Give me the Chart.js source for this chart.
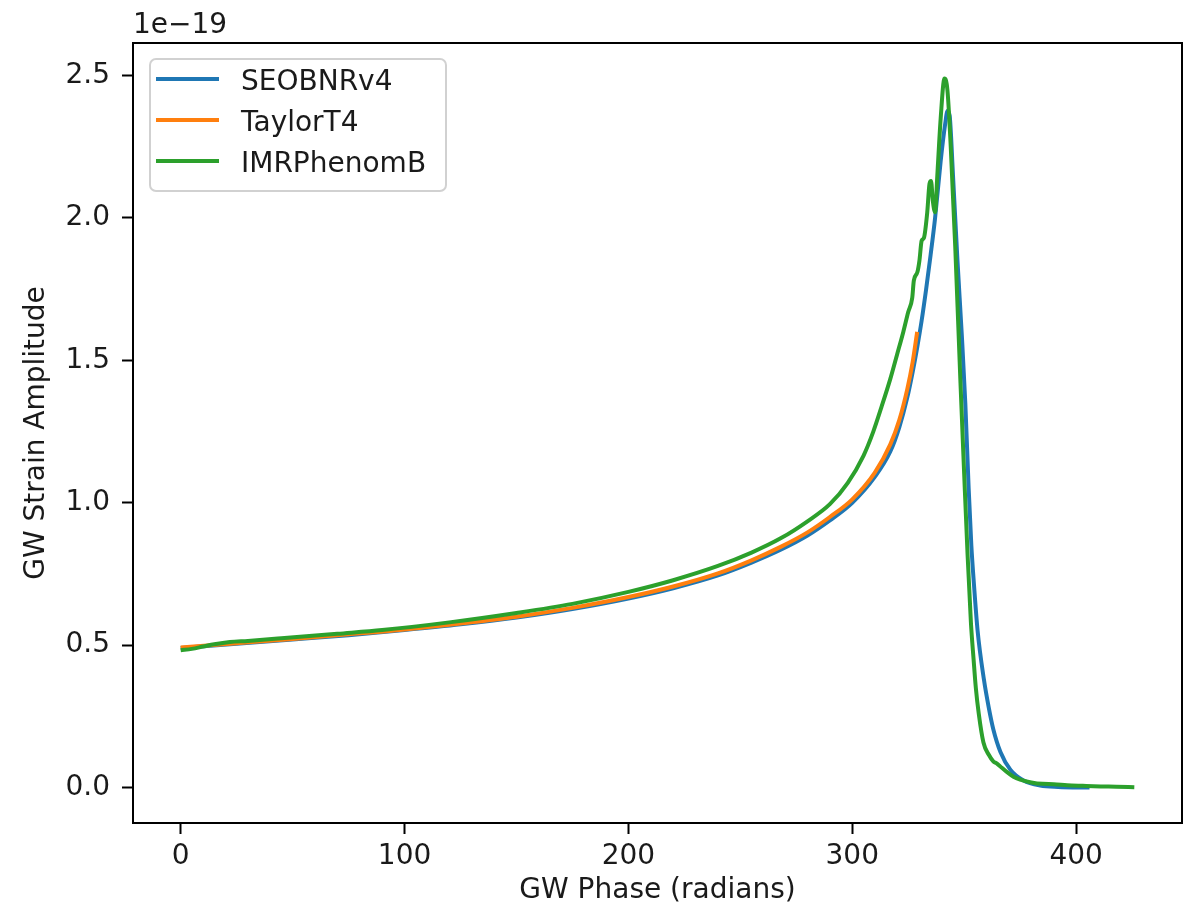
<!DOCTYPE html>
<html><head><meta charset="utf-8">
<script src="https://cdn.jsdelivr.net/npm/chart.js@4.4.1/dist/chart.umd.min.js"></script>
<style>html,body{margin:0;padding:0;background:#fff;overflow:hidden}canvas{display:block}</style>
</head><body>
<canvas id="c" width="1190" height="906"></canvas>
<script>
// ---- data (amplitude in units of 1e-19) ----
const seriesNames = ['SEOBNRv4', 'TaylorT4', 'IMRPhenomB'];
const seriesColors = ['#1f77b4', '#ff7f0e', '#2ca02c'];

const seobX = [0,25,50,75,100,125,150,175,200,220,240,255,268,280,290,300,310,317,321,324.6,327,329,331,333,335,337,339.5,341.5,342.6,343.5,345,347,349,350.5,352,353.2,354.3,356,358.8,361,363,366.2,370.7,376.5,384,392,406];
const seobY = [0.490,0.505,0.520,0.535,0.553,0.573,0.597,0.627,0.664,0.700,0.745,0.790,0.835,0.885,0.938,1.000,1.090,1.180,1.265,1.370,1.460,1.545,1.640,1.750,1.870,2.000,2.200,2.330,2.377,2.360,2.150,1.850,1.580,1.350,1.050,0.850,0.720,0.550,0.380,0.280,0.205,0.125,0.062,0.025,0.007,0.002,0.000];

const taylorX = [0,25,50,75,100,125,150,175,200,220,240,255,268,280,290,300,310,317,321,324.6,327,329];
const taylorY = [0.492,0.507,0.522,0.538,0.555,0.576,0.600,0.631,0.669,0.706,0.752,0.798,0.845,0.896,0.950,1.012,1.105,1.205,1.290,1.400,1.495,1.600];

const imrX = [0,5,10,15,22,30,45,70,90,120,150,175,200,220,240,255,268,280,290,298,305,309.4,313,317,320,322.8,325,326.8,327.5,329.1,330,331,332,333.5,334.5,335.2,336,337,338,339.5,341.2,342.5,344,346,348.3,350,351.5,353,354.2,355.2,356.5,358.6,361,363,364.5,366,369.3,372,375,380,385,390,396,403,411,418,426];
const imrY = [0.482,0.487,0.495,0.503,0.511,0.515,0.524,0.540,0.553,0.580,0.613,0.645,0.687,0.728,0.778,0.825,0.875,0.935,0.995,1.070,1.165,1.250,1.335,1.435,1.520,1.600,1.670,1.720,1.780,1.810,1.850,1.920,1.930,2.020,2.120,2.130,2.060,2.020,2.150,2.350,2.490,2.450,2.250,1.900,1.430,1.100,0.820,0.580,0.450,0.350,0.260,0.158,0.115,0.092,0.085,0.075,0.053,0.038,0.028,0.018,0.013,0.012,0.008,0.006,0.004,0.003,0.001];

const xTicks = [0, 100, 200, 300, 400];
const yTicks = [0.0, 0.5, 1.0, 1.5, 2.0, 2.5];
const yOffsetLabel = '1e\u221219';
const xTitle = 'GW Phase (radians)';
const yTitle = 'GW Strain Amplitude';

// ---- chart ----
const FONT = 'DejaVu Sans';
const TXT = '#1a1a1a';
const toPts = (xs, ys) => xs.map((x, i) => ({x: x, y: ys[i]}));
const allX = [seobX, taylorX, imrX];
const allY = [seobY, taylorY, imrY];

const datasets = seriesNames.map((n, i) => ({
  label: n,
  data: toPts(allX[i], allY[i]),
  borderColor: seriesColors[i],
  backgroundColor: seriesColors[i],
  borderWidth: 4,
  pointRadius: 0,
  fill: false,
  cubicInterpolationMode: 'monotone',
  order: 3 - i
}));

const framePlugin = {
  id: 'frame',
  afterDatasetsDraw(chart) {
    const {ctx, chartArea: a} = chart;
    ctx.save();
    ctx.strokeStyle = '#000';
    ctx.lineWidth = 2;
    ctx.strokeRect(a.left, a.top, a.right - a.left, a.bottom - a.top);
    ctx.restore();
  },
  afterDraw(chart) {
    const {ctx, chartArea: a} = chart;
    ctx.save();
    ctx.font = '28px "' + FONT + '"';
    ctx.fillStyle = TXT;
    ctx.textAlign = 'left';
    ctx.textBaseline = 'alphabetic';
    ctx.fillText(yOffsetLabel, a.left, 33);
    const bx = 150, by = 59, bw = 296, bh = 132, r = 6;
    ctx.beginPath();
    ctx.moveTo(bx + r, by);
    ctx.arcTo(bx + bw, by, bx + bw, by + bh, r);
    ctx.arcTo(bx + bw, by + bh, bx, by + bh, r);
    ctx.arcTo(bx, by + bh, bx, by, r);
    ctx.arcTo(bx, by, bx + bw, by, r);
    ctx.closePath();
    ctx.fillStyle = 'rgba(255,255,255,0.8)';
    ctx.fill();
    ctx.strokeStyle = 'rgba(204,204,204,0.9)';
    ctx.lineWidth = 2;
    ctx.stroke();
    seriesNames.forEach((n, i) => {
      const yy = 79 + i * 41;
      ctx.beginPath();
      ctx.moveTo(156, yy);
      ctx.lineTo(219, yy);
      ctx.strokeStyle = seriesColors[i];
      ctx.lineWidth = 4;
      ctx.stroke();
      ctx.fillStyle = TXT;
      ctx.fillText(n, 241, yy + 11);
    });
    ctx.restore();
  }
};

new Chart(document.getElementById('c'), {
  type: 'line',
  data: {datasets: datasets},
  options: {
    responsive: false,
    animation: false,
    events: [],
    layout: {padding: {left: 0, top: 43, right: 8, bottom: 0}},
    plugins: {legend: {display: false}, tooltip: {enabled: false}},
    scales: {
      x: {
        type: 'linear',
        min: -21.3,
        max: 447.3,
        afterBuildTicks: s => { s.ticks = xTicks.map(v => ({value: v})); },
        afterFit: s => { s.height = 83; },
        border: {display: false},
        grid: {drawOnChartArea: false, drawTicks: true, tickLength: 11, tickWidth: 2, tickColor: '#000'},
        ticks: {
          autoSkip: false, maxRotation: 0, padding: 6, color: TXT,
          font: {family: FONT, size: 28},
          callback: v => String(v)
        },
        title: {display: true, text: xTitle, color: TXT, font: {family: FONT, size: 28, lineHeight: 1}, padding: {top: 0, bottom: 1}}
      },
      y: {
        type: 'linear',
        min: -0.1245,
        max: 2.6145,
        afterBuildTicks: s => { s.ticks = yTicks.map(v => ({value: v})); },
        afterFit: s => { s.width = 133; },
        border: {display: false},
        grid: {drawOnChartArea: false, drawTicks: true, tickLength: 11, tickWidth: 2, tickColor: '#000'},
        ticks: {
          autoSkip: false, padding: 12, color: TXT,
          font: {family: FONT, size: 28},
          callback: v => Number(v).toFixed(1)
        },
        title: {display: true, text: yTitle, color: TXT, font: {family: FONT, size: 28, lineHeight: 1.2}, padding: {top: 20, bottom: 0}}
      }
    }
  },
  plugins: [framePlugin]
});
</script>
</body></html>
